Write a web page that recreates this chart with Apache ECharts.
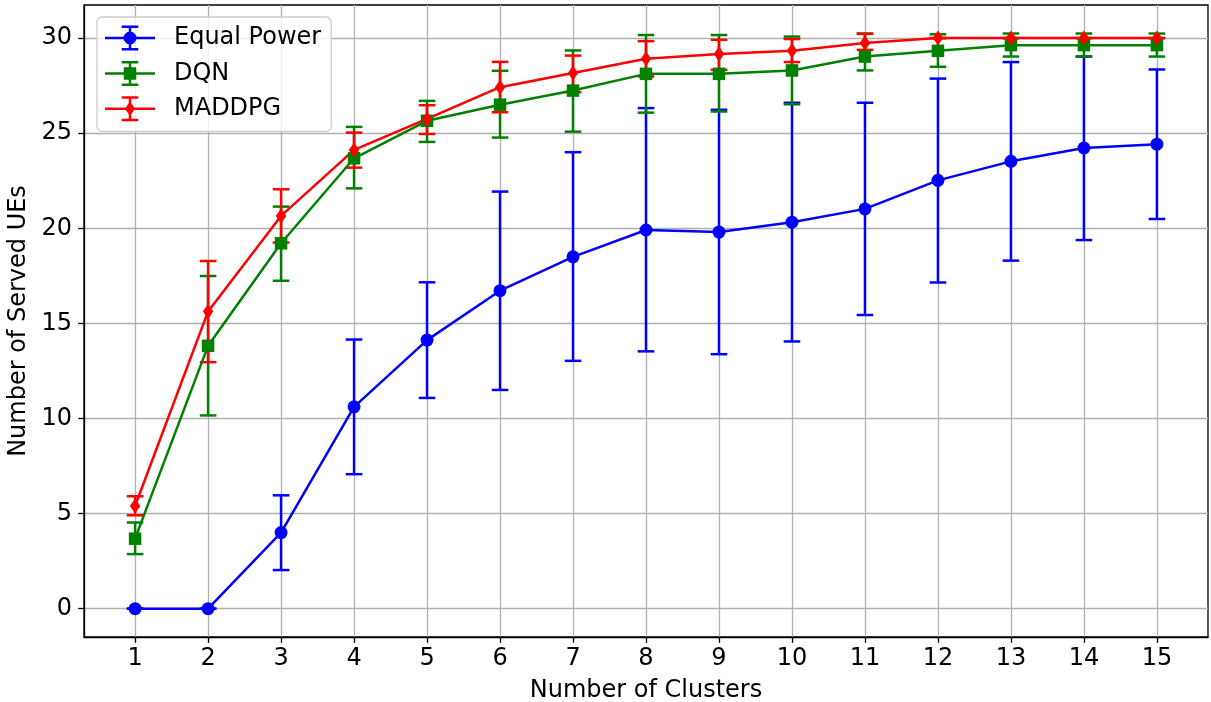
<!DOCTYPE html>
<html>
<head>
<meta charset="utf-8">
<script src="https://cdn.jsdelivr.net/npm/echarts@6/dist/echarts.min.js"></script>
<style>
  html, body { margin: 0; padding: 0; background: #ffffff; }
  #chart { width: 1211px; height: 702px; }
</style>
</head>
<body>
<div id="chart"></div>
<script>
// Number of clusters on the x axis
const clusters = [1, 2, 3, 4, 5, 6, 7, 8, 9, 10, 11, 12, 13, 14, 15];
const xTicks = [1, 2, 3, 4, 5, 6, 7, 8, 9, 10, 11, 12, 13, 14, 15];
const yTicks = [0, 5, 10, 15, 20, 25, 30];

// Equal Power: mean served UEs and error-bar ends
const equalMean = [0, 0, 4.0, 10.61, 14.12, 16.72, 18.5, 19.91, 19.8, 20.32, 21.02, 22.52, 23.52, 24.22, 24.42];
const equalLow  = [0, 0, 2.03, 7.07, 11.08, 11.5, 13.03, 13.53, 13.38, 14.05, 15.44, 17.15, 18.3, 19.38, 20.49];
const equalHigh = [0, 0, 5.96, 14.15, 17.16, 21.93, 24.0, 26.32, 26.23, 26.6, 26.6, 27.87, 28.74, 29.03, 28.35];

// DQN
const dqnMean = [3.68, 13.82, 19.21, 23.68, 25.65, 26.5, 27.24, 28.12, 28.12, 28.3, 29.03, 29.33, 29.63, 29.63, 29.63];
const dqnLow  = [2.87, 10.16, 17.24, 22.1, 24.54, 24.77, 25.08, 26.08, 26.14, 26.52, 28.3, 28.49, 29.03, 29.03, 29.03];
const dqnHigh = [4.53, 17.49, 21.14, 25.33, 26.7, 28.28, 29.35, 30.16, 30.16, 30.08, 30.24, 30.2, 30.24, 30.24, 30.24];

// MADDPG
const maddpgMean = [5.4, 15.63, 20.65, 24.12, 25.75, 27.42, 28.16, 28.91, 29.16, 29.33, 29.74, 30.0, 30.0, 30.0, 30.0];
const maddpgLow  = [4.91, 12.96, 19.25, 23.19, 24.96, 26.1, 27.16, 27.98, 28.33, 28.74, 29.38, 30.0, 30.0, 30.0, 30.0];
const maddpgHigh = [5.91, 18.28, 22.05, 25.03, 26.47, 28.75, 29.08, 29.84, 29.91, 29.95, 30.22, 30.0, 30.0, 30.0, 30.0];

const FONT = 'DejaVu Sans';
const FS = 24;
const LW = 2.5;
const CAP = 8.3;

function pairs(xs, ys) { return xs.map((x, i) => [x, ys[i]]); }
function triples(xs, lo, hi) { return xs.map((x, i) => [x, lo[i], hi[i]]); }

// Vertical error bar with caps at both ends
function errorBar(color) {
  return function (params, api) {
    const x = api.value(0);
    const lo = api.coord([x, api.value(1)]);
    const hi = api.coord([x, api.value(2)]);
    const style = { stroke: color, lineWidth: LW, fill: null };
    return {
      type: 'group',
      children: [
        { type: 'line', shape: { x1: lo[0], y1: lo[1], x2: hi[0], y2: hi[1] }, style: style },
        { type: 'line', shape: { x1: lo[0] - CAP, y1: lo[1], x2: lo[0] + CAP, y2: lo[1] }, style: style },
        { type: 'line', shape: { x1: hi[0] - CAP, y1: hi[1], x2: hi[0] + CAP, y2: hi[1] }, style: style }
      ]
    };
  };
}

// Legend glyphs: horizontal line, capped vertical bar, and the marker
const bars = 'M0,11.25 H50 V13.75 H0 Z M23.75,0 H26.25 V25 H23.75 Z M16.7,0 H33.3 V2.5 H16.7 Z M16.7,22.5 H33.3 V25 H16.7 Z ';
const iconCircle = 'path://' + bars + 'M31.5,12.5 A6.5,6.5 0 1 1 18.5,12.5 A6.5,6.5 0 1 1 31.5,12.5 Z';
const iconSquare = 'path://' + bars + 'M18.75,6.25 H31.25 V18.75 H18.75 Z';
const iconDiamond = 'path://' + bars + 'M25,5 L30,12.5 L25,20 L20,12.5 Z';

const BLUE = '#0000ff', GREEN = '#008000', RED = '#ff0000';

function lineSeries(name, data, color, symbol, size) {
  return {
    name: name, type: 'line', data: data, z: 3,
    symbol: symbol, symbolSize: size, showAllSymbol: true,
    lineStyle: { color: color, width: LW },
    itemStyle: { color: color, borderWidth: 0 },
    emphasis: { disabled: true }
  };
}
function barSeries(name, data, color) {
  return {
    name: name, type: 'custom', data: data, z: 2,
    itemStyle: { color: color },
    renderItem: errorBar(color),
    encode: { x: 0, y: [1, 2] }
  };
}

const chart = echarts.init(document.getElementById('chart'), null, { renderer: 'canvas' });
chart.setOption({
  animation: false,
  backgroundColor: '#ffffff',
  color: [BLUE, GREEN, RED],
  textStyle: { fontFamily: FONT },
  grid: {
    left: 84, right: 3, top: 5, bottom: 65,
    outerBoundsMode: 'none', containLabel: false,
    show: true, borderColor: '#000000', borderWidth: 1.3, backgroundColor: 'transparent'
  },
  legend: {
    left: 97, top: 17,
    orient: 'vertical',
    itemWidth: 50, itemHeight: 25, itemGap: 10.4,
    padding: [8.5, 10, 10, 8],
    backgroundColor: 'rgba(255,255,255,0.8)',
    borderColor: '#cccccc', borderWidth: 1.3, borderRadius: 5,
    itemStyle: { borderWidth: 0 },
    textStyle: { fontFamily: FONT, fontSize: FS, color: '#000000', padding: [0, 0, 0, 14] },
    data: [
      { name: 'Equal Power', icon: iconCircle, itemStyle: { color: BLUE } },
      { name: 'DQN', icon: iconSquare, itemStyle: { color: GREEN } },
      { name: 'MADDPG', icon: iconDiamond, itemStyle: { color: RED } }
    ]
  },
  xAxis: {
    type: 'value', min: 0.3, max: 15.7,
    name: 'Number of Clusters', nameLocation: 'middle', nameGap: 42,
    nameTextStyle: { fontFamily: FONT, fontSize: FS, color: '#000000' },
    axisLine: { show: true, onZero: false, lineStyle: { color: '#000000', width: 1.3 } },
    axisTick: { show: true, length: 5.8, customValues: xTicks, lineStyle: { color: '#000000', width: 1.3 } },
    axisLabel: { customValues: xTicks, margin: 10, fontFamily: FONT, fontSize: FS, color: '#000000' },
    splitLine: { show: true, lineStyle: { color: '#b0b0b0', width: 1.3 } }
  },
  yAxis: {
    type: 'value', min: -1.49, max: 31.74,
    name: 'Number of Served UEs', nameLocation: 'middle', nameGap: 43,
    nameTextStyle: { fontFamily: FONT, fontSize: FS, color: '#000000' },
    axisLine: { show: true, onZero: false, lineStyle: { color: '#000000', width: 1.3 } },
    axisTick: { show: true, length: 5.8, customValues: yTicks, lineStyle: { color: '#000000', width: 1.3 } },
    axisLabel: { customValues: yTicks, margin: 12, fontFamily: FONT, fontSize: FS, color: '#000000' },
    splitLine: { show: true, lineStyle: { color: '#b0b0b0', width: 1.3 } }
  },
  series: [
    barSeries('Equal Power', triples(clusters, equalLow, equalHigh), BLUE),
    barSeries('DQN', triples(clusters, dqnLow, dqnHigh), GREEN),
    barSeries('MADDPG', triples(clusters, maddpgLow, maddpgHigh), RED),
    lineSeries('Equal Power', pairs(clusters, equalMean), BLUE, 'circle', 13),
    lineSeries('DQN', pairs(clusters, dqnMean), GREEN, 'rect', 12.5),
    lineSeries('MADDPG', pairs(clusters, maddpgMean), RED, 'diamond', [10.5, 15])
  ]
});
</script>
</body>
</html>
